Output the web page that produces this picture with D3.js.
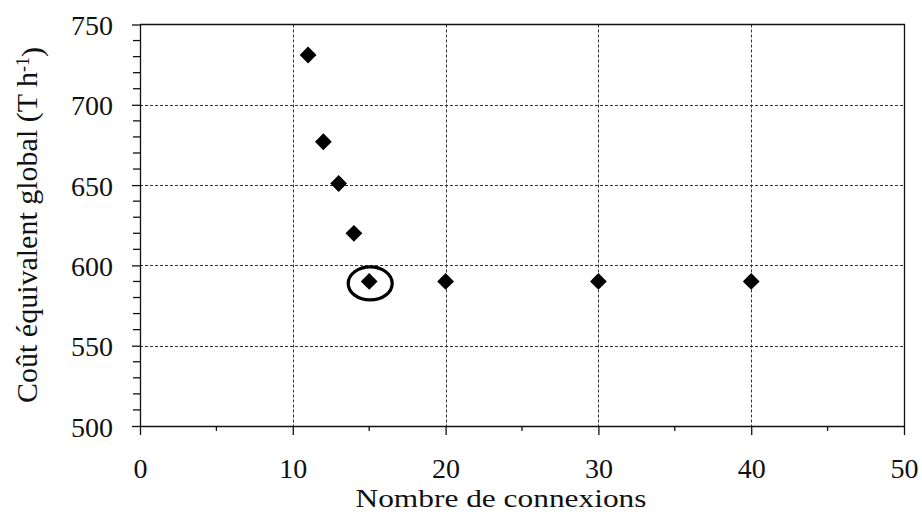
<!DOCTYPE html>
<html>
<head>
<meta charset="utf-8">
<script src="https://cdn.jsdelivr.net/npm/d3@7"></script>
<style>
  html, body { margin: 0; padding: 0; background: #fff; }
  svg { display: block; }
  text { font-family: "Liberation Serif", "Times New Roman", serif; fill: #111; }
</style>
</head>
<body>
<svg id="chart" width="922" height="515"></svg>
<script>
// Number of connections vs. global equivalent cost
const connexions = [11, 12, 13, 14, 15, 20, 30, 40];
const couts = [731, 677, 651, 620, 590, 590, 590, 590];
const optimum = 15; // highlighted solution
const xTicks = [0, 10, 20, 30, 40, 50];
const yTicks = [500, 550, 600, 650, 700, 750];

const svg = d3.select("#chart");
const plotL = 140, plotR = 904, plotT = 24.5, plotB = 426;

const x = d3.scaleLinear().domain([0, 50]).range([plotL, plotR]);
const y = d3.scaleLinear().domain([500, 750]).range([plotB, plotT]);

// gridlines
const grid = svg.append("g").attr("stroke", "#333").attr("stroke-width", 1)
  .attr("stroke-dasharray", "3,2");
grid.selectAll("line.h").data(yTicks.filter(d => d > 500 && d < 750)).enter()
  .append("line").attr("x1", plotL).attr("x2", plotR)
  .attr("y1", d => Math.round(y(d)) + 0.5).attr("y2", d => Math.round(y(d)) + 0.5);
grid.selectAll("line.v").data(xTicks.filter(d => d > 0 && d < 50)).enter()
  .append("line").attr("y1", plotT).attr("y2", plotB)
  .attr("x1", d => Math.round(x(d)) + 0.5).attr("x2", d => Math.round(x(d)) + 0.5);

// frame: top and right borders
svg.append("path")
  .attr("d", `M${plotL},${plotT}H${plotR + 0.5}V${plotB}`)
  .attr("fill", "none").attr("stroke", "#111").attr("stroke-width", 1.3);

// y axis
const yAxis = d3.axisLeft(y).tickValues(yTicks).tickSize(8).tickSizeOuter(0)
  .tickFormat(d3.format("d")).tickPadding(19);
const gy = svg.append("g").attr("transform", `translate(${plotL},0)`).call(yAxis);
gy.selectAll(".tick text").style("font-size", "28px").attr("fill", "#111")
  .attr("dy", "0.36em");
const yMinor = d3.range(510, 750, 10).filter(d => d % 50 !== 0);
gy.selectAll("line.minor").data(yMinor).enter().append("line")
  .attr("x1", -7).attr("x2", 0)
  .attr("y1", d => y(d)).attr("y2", d => y(d)).attr("stroke", "#111");

// x axis
const xAxis = d3.axisBottom(x).tickValues(xTicks).tickSize(9).tickSizeOuter(0)
  .tickFormat(d3.format("d")).tickPadding(23);
const gx = svg.append("g").attr("transform", `translate(0,${plotB})`).call(xAxis);
gx.selectAll(".tick text").style("font-size", "28px").attr("fill", "#111");
gx.selectAll("line.minor").data(d3.range(5, 50, 10)).enter().append("line")
  .attr("y1", 0).attr("y2", 5)
  .attr("x1", d => x(d)).attr("x2", d => x(d)).attr("stroke", "#111");

[gx, gy].forEach(g => {
  g.select(".domain").attr("stroke", "#111").attr("stroke-width", 1.3);
  g.selectAll("line").attr("stroke", "#111").attr("stroke-width", 1.3);
});

// points
const diamond = d3.symbol().type(d3.symbolDiamond2).size(180);
svg.append("g").selectAll("path").data(connexions).enter().append("path")
  .attr("d", diamond)
  .attr("transform", (d, i) => `translate(${x(d)},${y(couts[i])})`)
  .attr("fill", "#000");

// highlighted optimum
const oi = connexions.indexOf(optimum);
svg.append("ellipse")
  .attr("cx", x(optimum) + 1).attr("cy", y(couts[oi]) + 2)
  .attr("rx", 22).attr("ry", 16.5)
  .attr("fill", "none").attr("stroke", "#000").attr("stroke-width", 3.2);

// axis titles
svg.append("text").attr("x", 501).attr("y", 507)
  .attr("text-anchor", "middle").style("font-size", "25px")
  .attr("textLength", 291).attr("lengthAdjust", "spacingAndGlyphs")
  .text("Nombre de connexions");

const yt = svg.append("text")
  .attr("transform", `translate(37,225) rotate(-90)`)
  .attr("text-anchor", "middle").style("font-size", "30px");
yt.append("tspan").text("Coût équivalent global (T h");
yt.append("tspan").attr("dy", "-0.45em").style("font-size", "18px").text("-1");
yt.append("tspan").attr("dy", "0.45em").text(")");
</script>
</body>
</html>
